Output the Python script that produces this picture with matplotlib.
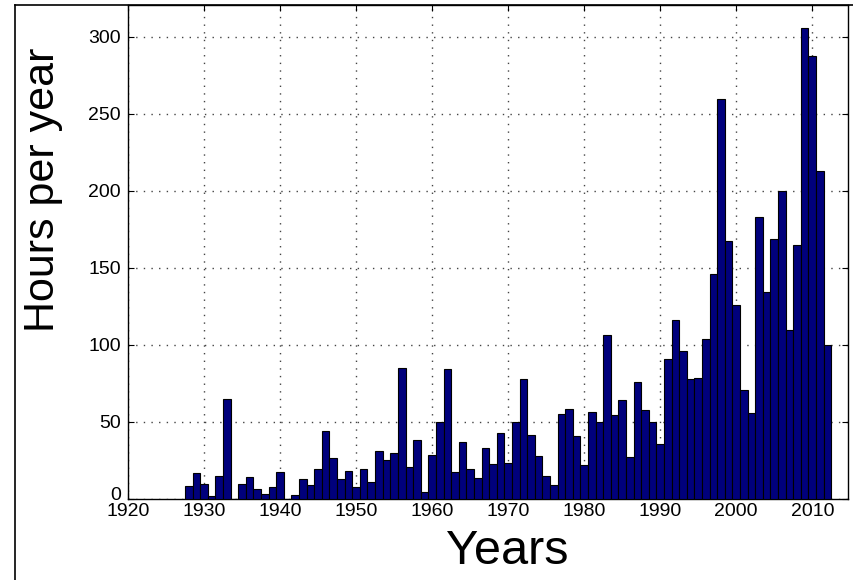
import matplotlib
matplotlib.use("Agg")
import matplotlib.pyplot as plt
from matplotlib.lines import Line2D
from matplotlib.transforms import ScaledTranslation

years = list(range(1928, 2013))
hours = [8.7, 16.9, 9.7, 2.2, 15.2, 65.0, 0.0, 9.7, 14.1, 6.7,
         3.5, 7.6, 17.3, 0.0, 2.4, 13.0, 8.8, 19.4, 44.0, 26.9,
         13.0, 18.2, 8.1, 19.4, 11.0, 31.2, 25.1, 29.9, 85.3, 20.6,
         38.5, 4.4, 28.8, 50.2, 84.2, 17.3, 37.3, 19.3, 13.9, 33.4,
         22.7, 42.7, 23.6, 50.0, 77.7, 41.6, 28.2, 15.2, 8.9, 55.4,
         58.7, 40.7, 22.1, 56.5, 50.0, 106.7, 54.4, 64.1, 27.1, 75.8,
         58.0, 50.0, 35.4, 90.6, 116.0, 95.9, 77.7, 78.8, 103.5, 145.8,
         259.5, 167.4, 125.7, 70.4, 56.0, 183.1, 134.2, 168.5, 200.0, 109.5,
         165.1, 305.4, 287.5, 213.0, 100.2]
xticks = [1920, 1930, 1940, 1950, 1960, 1970, 1980, 1990, 2000, 2010]
yticks = [0, 50, 100, 150, 200, 250, 300]

plt.rcParams['font.family'] = ['Liberation Sans', 'DejaVu Sans']

W, H = 854, 580
fig = plt.figure(figsize=(W / 100, H / 100), dpi=100)
left, right, top, bottom = 128, 848, 5, 499
ax = fig.add_axes([left / W, 1 - bottom / H, (right - left) / W, (bottom - top) / H])

ax.bar(years, hours, width=1.0, color='#00007c', edgecolor='black', linewidth=0.8, zorder=3)

ax.set_xlim(1920, 2014.7)
ax.set_ylim(0, 320.5)
ax.set_xticks(xticks)
ax.set_yticks(yticks)
ax.tick_params(axis='both', direction='in', length=4, width=0.8, labelsize=14,
               top=True, right=True, colors='black')
ax.tick_params(axis='x', pad=3)
ax.tick_params(axis='y', pad=5)
ax.grid(True, linestyle=(0, (1, 4.5)), color='#444444', linewidth=1.0, zorder=0)
for s in ax.spines.values():
    s.set_linewidth(1.0)
    s.set_color('black')

# raise the "0" label a little, as in the reference
t0 = ax.yaxis.get_major_ticks()[0]
t0.label1.set_transform(t0.label1.get_transform() + ScaledTranslation(0, 6 / 100, fig.dpi_scale_trans))

ax.text((507 - left) / (right - left), (bottom - 552) / (bottom - top), 'Years',
        transform=ax.transAxes, ha='center', va='center', fontsize=35)
ax.text((43 - left) / (right - left), (bottom - 190) / (bottom - top), 'Hours per year',
        transform=ax.transAxes, ha='center', va='center', rotation=90, fontsize=31)

# figure border (screenshot frame)
fig.add_artist(Line2D([15 / W, 15 / W], [0, 1 - 5 / H], transform=fig.transFigure,
                      color='black', linewidth=1.2))
fig.add_artist(Line2D([15 / W, 1.0], [1 - 5 / H, 1 - 5 / H], transform=fig.transFigure,
                      color='black', linewidth=1.2))

fig.savefig('out.png', dpi=100)
